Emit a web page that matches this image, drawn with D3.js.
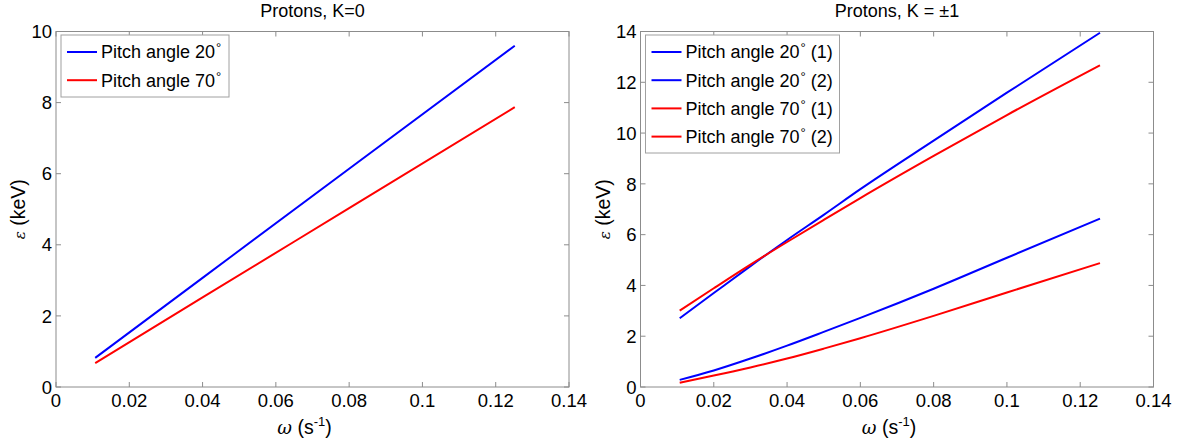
<!DOCTYPE html>
<html>
<head>
<meta charset="utf-8">
<script src="https://cdn.jsdelivr.net/npm/d3@7"></script>
<style>
  body { margin: 0; background: #fff; }
  text { font-family: "Liberation Sans", Arial, sans-serif; fill: #000; }
</style>
</head>
<body>
<div id="chart"></div>
<script>
// omega (s^-1) samples and energy (keV)
var omegaLeft = [0.0107, 0.04, 0.08, 0.1252];
var k0Pitch20 = [0.82, 3.07, 6.14, 9.6];
var k0Pitch70 = [0.67, 2.52, 5.03, 7.87];

var omegaRight = [0.0107, 0.02, 0.03, 0.04, 0.05, 0.06, 0.08, 0.1, 0.1254];
var k1Pitch20a = [2.71, 3.70, 4.76, 5.79, 6.78, 7.79, 9.70, 11.59, 13.95];
var k1Pitch20b = [0.28, 0.65, 1.12, 1.63, 2.17, 2.72, 3.87, 5.09, 6.63];
var k1Pitch70a = [3.01, 3.89, 4.82, 5.71, 6.58, 7.44, 9.10, 10.71, 12.67];
var k1Pitch70b = [0.17, 0.45, 0.77, 1.12, 1.51, 1.92, 2.80, 3.72, 4.88];

var xTicks = [0, 0.02, 0.04, 0.06, 0.08, 0.1, 0.12, 0.14];
var yTicksLeft = [0, 2, 4, 6, 8, 10];
var yTicksRight = [0, 2, 4, 6, 8, 10, 12, 14];

var svg = d3.select("#chart").append("svg")
    .attr("width", 1180)
    .attr("height", 446);

function zip(xs, ys){
  return xs.map(function(x, i){ return [x, ys[i]]; });
}

function drawPanel(cfg){
  var x = d3.scaleLinear().domain([0, 0.14]).range([cfg.left, cfg.left + 513]);
  var y = d3.scaleLinear().domain([0, cfg.ymax]).range([387, 31.5]);
  var g = svg.append("g");
  var axisColor = "#8c8c8c";

  // plot box
  g.append("rect")
    .attr("x", x(0)).attr("y", y(cfg.ymax))
    .attr("width", x(0.14) - x(0)).attr("height", y(0) - y(cfg.ymax))
    .attr("fill", "none").attr("stroke", axisColor).attr("stroke-width", 1);

  // ticks on all four sides, pointing in
  xTicks.forEach(function(t){
    g.append("line").attr("x1", x(t)).attr("x2", x(t)).attr("y1", y(0)).attr("y2", y(0) - 5).attr("stroke", axisColor);
    g.append("line").attr("x1", x(t)).attr("x2", x(t)).attr("y1", y(cfg.ymax)).attr("y2", y(cfg.ymax) + 5).attr("stroke", axisColor);
    g.append("text").attr("x", x(t)).attr("y", y(0) + 20)
      .attr("text-anchor", "middle").style("font-size", "18.5px")
      .text(d3.format("~g")(t));
  });
  cfg.yTicks.forEach(function(t){
    g.append("line").attr("x1", x(0)).attr("x2", x(0) + 5).attr("y1", y(t)).attr("y2", y(t)).attr("stroke", axisColor);
    g.append("line").attr("x1", x(0.14)).attr("x2", x(0.14) - 5).attr("y1", y(t)).attr("y2", y(t)).attr("stroke", axisColor);
    g.append("text").attr("x", x(0) - 4).attr("y", y(t)).attr("dy", "0.36em")
      .attr("text-anchor", "end").style("font-size", "18.5px")
      .text(t);
  });

  // title
  g.append("text").attr("x", (x(0) + x(0.14)) / 2).attr("y", 17)
    .attr("text-anchor", "middle").style("font-size", "18px")
    .text(cfg.title);

  // x label
  var xl = g.append("text").attr("x", (x(0) + x(0.14)) / 2 - 8).attr("y", 434)
    .attr("text-anchor", "middle").style("font-size", "19.5px");
  xl.append("tspan").style("font-family", "'DejaVu Serif', serif").style("font-style", "italic").style("font-size", "18px").text("ω");
  xl.append("tspan").text("  (s");
  xl.append("tspan").attr("dy", -8).style("font-size", "13px").text("-1");
  xl.append("tspan").attr("dy", 8).text(")");

  // y label
  var yl = g.append("text")
    .attr("transform", "translate(" + (x(0) - 31) + "," + ((y(0) + y(cfg.ymax)) / 2) + ") rotate(-90)")
    .attr("text-anchor", "middle").style("font-size", "19.5px");
  yl.append("tspan").style("font-family", "'DejaVu Serif', serif").style("font-style", "italic").style("font-size", "15px").text("ε");
  yl.append("tspan").text("  (keV)");

  // curves
  var line = d3.line()
    .x(function(d){ return x(d[0]); })
    .y(function(d){ return y(d[1]); })
    .curve(d3.curveMonotoneX);
  cfg.series.forEach(function(s){
    g.append("path").datum(zip(s.xs, s.ys))
      .attr("d", line).attr("fill", "none")
      .attr("stroke", s.color).attr("stroke-width", 2);
  });

  // legend
  var lx = x(0) + 5, ly = y(cfg.ymax) + 3.5;
  g.append("rect").attr("x", lx).attr("y", ly)
    .attr("width", cfg.legendW).attr("height", 6 + cfg.series.length * 28)
    .attr("fill", "#fff").attr("stroke", "#a0a0a0");
  cfg.series.forEach(function(s, i){
    var yy = ly + 17 + i * 28.2;
    g.append("line").attr("x1", lx + 6).attr("x2", lx + 36).attr("y1", yy).attr("y2", yy)
      .attr("stroke", s.color).attr("stroke-width", 2);
    var t = g.append("text").attr("x", lx + 40).attr("y", yy).attr("dy", "0.36em")
      .style("font-size", "18px");
    t.append("tspan").text(s.name);
    t.append("tspan").attr("dy", -6).attr("dx", 1).style("font-size", "13px").text("°");
    t.append("tspan").attr("dy", 6).text(s.suffix);
  });
}

drawPanel({
  left: 56, ymax: 10, yTicks: yTicksLeft, title: "Protons, K=0", legendW: 168,
  series: [
    {xs: omegaLeft, ys: k0Pitch20, color: "#0000ff", name: "Pitch angle 20", suffix: ""},
    {xs: omegaLeft, ys: k0Pitch70, color: "#ff0000", name: "Pitch angle 70", suffix: ""}
  ]
});

drawPanel({
  left: 640.5, ymax: 14, yTicks: yTicksRight, title: "Protons, K = ±1", legendW: 194,
  series: [
    {xs: omegaRight, ys: k1Pitch20a, color: "#0000ff", name: "Pitch angle 20", suffix: " (1)"},
    {xs: omegaRight, ys: k1Pitch20b, color: "#0000ff", name: "Pitch angle 20", suffix: " (2)"},
    {xs: omegaRight, ys: k1Pitch70a, color: "#ff0000", name: "Pitch angle 70", suffix: " (1)"},
    {xs: omegaRight, ys: k1Pitch70b, color: "#ff0000", name: "Pitch angle 70", suffix: " (2)"}
  ]
});
</script>
</body>
</html>
